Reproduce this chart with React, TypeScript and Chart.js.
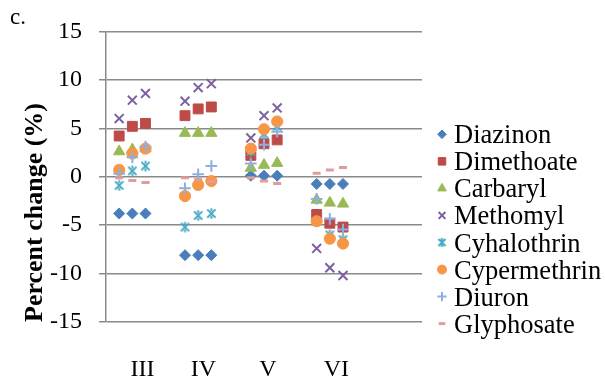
import { useEffect, useRef } from 'react';
import { Chart, registerables } from 'chart.js';
import { drawPoint } from 'chart.js/helpers';

Chart.register(...registerables);

// ---------- data ----------
const categories = ['III', 'IV', 'V', 'VI'];
const categoryTickPositions = [1.77, 6.4, 11.3, 16.5];
const pointPositions = [0, 1, 2, 5, 6, 7, 10, 11, 12, 15, 16, 17];
const yTicks = [-15, -10, -5, 0, 5, 10, 15];

const seriesNames = ['Diazinon', 'Dimethoate', 'Carbaryl', 'Methomyl', 'Cyhalothrin', 'Cypermethrin', 'Diuron', 'Glyphosate'];

const diazinon = [-3.8, -3.8, -3.8, -8.1, -8.1, -8.1, 0.1, 0.1, 0.1, -0.75, -0.75, -0.75];
const dimethoate = [4.2, 5.2, 5.5, 6.3, 7.0, 7.2, 2.2, 3.4, 3.8, -3.9, -4.8, -5.2];
const carbaryl = [2.6, 2.8, 2.9, 4.5, 4.5, 4.5, 0.9, 1.2, 1.4, -2.4, -2.7, -2.8];
const methomyl = [6.0, 7.9, 8.6, 7.8, 9.2, 9.6, 4.0, 6.3, 7.1, -7.4, -9.4, -10.2];
const cyhalothrin = [-0.9, 0.6, 1.1, -5.2, -4.0, -3.8, 2.6, 4.4, 5.2, -4.6, -6.0, -6.5];
const cypermethrin = [0.7, 2.4, 2.9, -2.0, -0.85, -0.45, 2.9, 4.9, 5.7, -4.6, -6.4, -6.9];
const diuron = [0.3, 2.0, 3.1, -1.2, 0.25, 1.1, 1.35, 3.3, 4.65, -2.3, -4.35, -5.45];
const glyphosate = [-0.1, -0.4, -0.6, -0.1, -0.3, -0.5, -0.1, -0.45, -0.7, 0.35, 0.7, 0.95];

const seriesValues = [diazinon, dimethoate, carbaryl, methomyl, cyhalothrin, cypermethrin, diuron, glyphosate];

// ---------- styles ----------
const seriesColors = ['#4A7EBB', '#BE4B48', '#98B954', '#7D60A0', '#46AAC5', '#F79646', '#8DB0E0', '#E09B9B'];
const seriesStyles = ['rectRot', 'rect', 'triangle', 'crossRot', 'STAR', 'circle', 'cross', 'line'];
const seriesRadius = [5.5, 7, 6.5, 6.3, 7, 5.6, 5.8, 4];
const seriesBorder = [1, 1, 1, 2, 2, 1, 2, 3];
const legendRadius = [4.3, 5.3, 5, 4.8, 6, 4.5, 4.6, 3.3];

const FONT = '"Liberation Serif", "Times New Roman", serif';

function makeStar(color: string, size: number, lw: number) {
  const c = document.createElement('canvas');
  c.width = size;
  c.height = size;
  const ctx = c.getContext('2d')!;
  ctx.strokeStyle = color;
  ctx.lineWidth = lw;
  const m = size / 2;
  const a = size * 0.32;
  ctx.beginPath();
  ctx.moveTo(m - a, m - a);
  ctx.lineTo(m + a, m + a);
  ctx.moveTo(m + a, m - a);
  ctx.lineTo(m - a, m + a);
  ctx.moveTo(m, m - a - 1);
  ctx.lineTo(m, m - a + 2);
  ctx.moveTo(m, m + a + 1);
  ctx.lineTo(m, m + a - 2);
  ctx.stroke();
  return c;
}

export default function App() {
  const ref = useRef<HTMLCanvasElement | null>(null);

  useEffect(() => {
    const canvas = ref.current;
    if (!canvas) return;
    const star = makeStar(seriesColors[4], 13, 2);
    const starLegend = makeStar(seriesColors[4], 11, 2);
    const styleOf = (i: number, legend: boolean) =>
      seriesStyles[i] === 'STAR' ? (legend ? starLegend : star) : seriesStyles[i];

    const datasets = seriesNames.map((name, i) => ({
      label: name,
      data: seriesValues[i].map((v, k) => ({ x: pointPositions[k], y: v })),
      pointStyle: styleOf(i, false) as any,
      pointRadius: seriesRadius[i],
      pointHoverRadius: seriesRadius[i],
      pointBorderWidth: seriesBorder[i],
      backgroundColor: seriesColors[i],
      borderColor: seriesColors[i],
      showLine: false,
      order: seriesNames.length - i,
    }));

    const extras = {
      id: 'extras',
      afterDraw(chart: any) {
        const ctx = chart.ctx as CanvasRenderingContext2D;
        ctx.save();
        ctx.fillStyle = '#000';
        ctx.font = `23px ${FONT}`;
        ctx.textAlign = 'left';
        ctx.textBaseline = 'alphabetic';
        ctx.fillText('c.', 10, 24);
        ctx.save();
        ctx.translate(42, 322);
        ctx.rotate(-Math.PI / 2);
        ctx.font = `bold 26px ${FONT}`;
        ctx.fillText('Percent change (%)', 0, 0);
        ctx.restore();
        ctx.font = `26.5px ${FONT}`;
        seriesNames.forEach((name, i) => {
          const base = 143.3 + i * 27.05;
          ctx.fillStyle = seriesColors[i];
          ctx.strokeStyle = seriesColors[i];
          ctx.lineWidth = seriesBorder[i];
          drawPoint(ctx, {
            pointStyle: styleOf(i, true) as any,
            radius: legendRadius[i],
            borderWidth: seriesBorder[i],
            rotation: 0,
          } as any, 442, base - 9);
          ctx.fillStyle = '#000';
          ctx.fillText(name, 454, base);
        });
        ctx.restore();
      },
    };

    const chart = new Chart(canvas, {
      type: 'scatter',
      data: { datasets },
      options: {
        animation: false,
        responsive: false,
        events: [],
        layout: { padding: { left: 0, right: 183, top: 28, bottom: 0 } },
        plugins: { legend: { display: false }, tooltip: { enabled: false } },
        scales: {
          x: {
            type: 'linear',
            min: -1,
            max: 23,
            grid: { display: false, drawTicks: false },
            border: { display: false },
            afterBuildTicks: (scale: any) => {
              scale.ticks = categoryTickPositions.map((v) => ({ value: v }));
            },
            afterFit: (scale: any) => {
              scale.height = 59;
            },
            ticks: {
              autoSkip: false,
              maxRotation: 0,
              padding: 33,
              color: '#000',
              font: { family: FONT, size: 24 },
              callback: (_v: any, idx: number) => categories[idx],
            },
          },
          y: {
            type: 'linear',
            min: -15,
            max: 15,
            afterBuildTicks: (scale: any) => {
              scale.ticks = yTicks.map((v) => ({ value: v }));
            },
            afterFit: (scale: any) => {
              scale.width = 106;
            },
            grid: { color: '#8a8a8a', lineWidth: 1.5, tickLength: 7, drawTicks: true },
            border: { display: true, color: '#8a8a8a', width: 1.5 },
            ticks: {
              padding: 17,
              color: '#000',
              font: { family: FONT, size: 24 },
              callback: (v: any) => String(v),
            },
          },
        },
      },
      plugins: [extras],
    });
    return () => chart.destroy();
  }, []);

  return (
    <div style={{ position: 'fixed', left: 0, top: 0, width: 605, height: 381, background: '#fff' }}>
      <canvas ref={ref} width={605} height={381} style={{ width: 605, height: 381, display: 'block' }} />
    </div>
  );
}
